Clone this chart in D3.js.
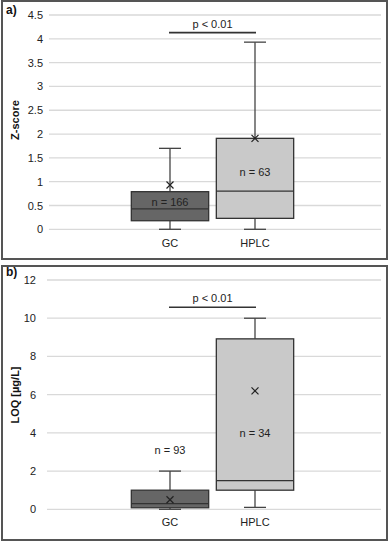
<!DOCTYPE html>
<html><head><meta charset="utf-8">
<script src="https://cdn.jsdelivr.net/npm/d3@7"></script>
<style>body{margin:0;background:#fff}svg{display:block}text{font-family:"Liberation Sans",Arial,sans-serif}</style>
</head><body><svg id="c" width="391" height="542"></svg>
<script>
const categories = ["GC", "HPLC"];
// Panel a) Z-score
const zMin = [0, 0];
const zQ1 = [0.18, 0.23];
const zMedian = [0.43, 0.80];
const zQ3 = [0.79, 1.91];
const zMax = [1.70, 3.93];
const zMean = [0.93, 1.91];
const zN = [166, 63];
const zTicks = [0, 0.5, 1, 1.5, 2, 2.5, 3, 3.5, 4, 4.5];
// Panel b) LOQ
const lMin = [0, 0.1];
const lQ1 = [0.08, 1.0];
const lMedian = [0.3, 1.5];
const lQ3 = [1.0, 8.92];
const lMax = [2.0, 10.0];
const lMean = [0.5, 6.2];
const lN = [93, 34];
const lTicks = [0, 2, 4, 6, 8, 10, 12];
const pText = "p < 0.01";

const svg = d3.select("#c");
const fills = ["#666666", "#c9c9c9"];

const panels = [
  {label:"a)", labelY:14, title:"Z-score", top:1, bottom:259, y0:229.3, y1:15, dom:[0,4.5], ticks:zTicks,
   tickX:43, gridX0:49, min:zMin,q1:zQ1,med:zMedian,q3:zQ3,max:zMax,mean:zMean,n:zN,
   nAt:[0.58,1.2], pAt:4.13, titleY:120, xLabY:243},
  {label:"b)", labelY:276, title:"LOQ [µg/L]", top:266, bottom:540, y0:509.3, y1:280, dom:[0,12], ticks:lTicks,
   tickX:36, gridX0:47, min:lMin,q1:lQ1,med:lMedian,q3:lQ3,max:lMax,mean:lMean,n:lN,
   nAt:[3.1,4.0], pAt:10.57, titleY:395, xLabY:522}
];

const x = d3.scaleBand().domain(categories).range([127.5, 297.5]).paddingInner(0.09).paddingOuter(0.045);
const bw = x.bandwidth();
const cx = c => x(c) + bw/2;

panels.forEach(p => {
  const g = svg.append("g");
  g.append("rect").attr("x",2).attr("y",p.top).attr("width",385).attr("height",p.bottom-p.top)
    .attr("fill","none").attr("stroke","#555").attr("stroke-width",2);
  const y = d3.scaleLinear().domain(p.dom).range([p.y0, p.y1]);
  g.selectAll(".grid").data(p.ticks).join("line")
    .attr("x1",p.gridX0).attr("x2",381).attr("y1",d=>y(d)).attr("y2",d=>y(d))
    .attr("stroke","#d9d9d9").attr("stroke-width",1.3);
  const ax = d3.axisLeft(y).tickValues(p.ticks).tickSize(0).tickPadding(0).tickFormat(d3.format("~g"));
  const axg = g.append("g").attr("transform",`translate(${p.tickX},0)`).call(ax);
  axg.select(".domain").remove();
  axg.selectAll("text").attr("font-size",11).attr("fill","#222").attr("font-family","Liberation Sans, Arial, sans-serif");
  g.append("text").attr("x",6).attr("y",p.labelY).attr("font-size",12).attr("font-weight","bold").attr("fill","#111").text(p.label);
  g.append("text").attr("transform",`translate(19,${p.titleY}) rotate(-90)`).attr("text-anchor","middle")
    .attr("font-size",11).attr("font-weight","bold").attr("fill","#111").text(p.title);
  g.selectAll(".xl").data(categories).join("text").attr("x",cx).attr("y",p.xLabY+4).attr("text-anchor","middle")
    .attr("font-size",11).attr("fill","#222").text(d=>d);
  categories.forEach((c,i) => {
    const X = cx(c);
    g.append("line").attr("x1",X).attr("x2",X).attr("y1",y(p.max[i])).attr("y2",y(p.q3[i])).attr("stroke","#444").attr("stroke-width",1.3);
    g.append("line").attr("x1",X).attr("x2",X).attr("y1",y(p.q1[i])).attr("y2",y(p.min[i])).attr("stroke","#444").attr("stroke-width",1.3);
    g.append("line").attr("x1",X-11).attr("x2",X+11).attr("y1",y(p.max[i])).attr("y2",y(p.max[i])).attr("stroke","#444").attr("stroke-width",1.3);
    g.append("line").attr("x1",X-11).attr("x2",X+11).attr("y1",y(p.min[i])).attr("y2",y(p.min[i])).attr("stroke","#444").attr("stroke-width",1.3);
    g.append("rect").attr("x",x(c)).attr("width",bw).attr("y",y(p.q3[i])).attr("height",y(p.q1[i])-y(p.q3[i]))
      .attr("fill",fills[i]).attr("stroke","#333").attr("stroke-width",1.3);
    g.append("line").attr("x1",x(c)).attr("x2",x(c)+bw).attr("y1",y(p.med[i])).attr("y2",y(p.med[i])).attr("stroke","#333").attr("stroke-width",1.3);
    const my = y(p.mean[i]), s = 3.5;
    g.append("path").attr("d",`M${X-s},${my-s}L${X+s},${my+s}M${X-s},${my+s}L${X+s},${my-s}`).attr("stroke","#222").attr("stroke-width",1.2);
    g.append("text").attr("x",X).attr("y",y(p.nAt[i])+4).attr("text-anchor","middle").attr("font-size",11).attr("fill","#222").text(`n = ${p.n[i]}`);
  });
  const py = y(p.pAt);
  g.append("line").attr("x1",cx("GC")-1).attr("x2",cx("HPLC")+1).attr("y1",py).attr("y2",py).attr("stroke","#333").attr("stroke-width",1.6);
  g.append("text").attr("x",(cx("GC")+cx("HPLC"))/2).attr("y",py-5).attr("text-anchor","middle").attr("font-size",11).attr("fill","#222").text(pText);
});
</script></body></html>
